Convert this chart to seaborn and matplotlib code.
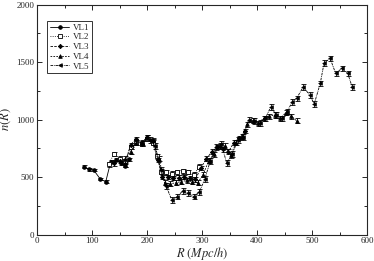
import numpy as np
import pandas as pd
import seaborn as sns
import matplotlib.pyplot as plt
from matplotlib.ticker import MultipleLocator


# values (R in Mpc/h, n(R))
vl1_r = [85, 95, 103, 115, 125, 134, 143, 152, 160, 168]
vl1_n = [590, 568, 561, 483, 459, 633, 650, 620, 598, 655]

vl2_r = [130, 140, 150, 160, 170, 180, 190, 200, 210, 218, 226, 235, 245,
         255, 265, 275, 285, 295]
vl2_n = [610, 700, 660, 640, 760, 800, 790, 830, 800, 680, 546, 540, 530,
         540, 550, 545, 520, 590]

vl3_r = [140, 150, 160, 170, 180, 190, 200, 210, 220, 228, 238, 248, 258,
         268, 278, 288, 298, 308, 318, 328, 338, 348, 358, 368, 378]
vl3_n = [620, 640, 610, 780, 830, 790, 850, 810, 650, 500, 500, 490, 495,
         500, 490, 480, 580, 660, 720, 760, 740, 720, 800, 840, 900]

vl4_r = [160, 170, 180, 190, 200, 210, 222, 232, 242, 252, 262, 272, 282,
         292, 302, 312, 322, 332, 342, 352, 362, 372, 382, 392, 402, 412,
         422, 432, 442, 452, 462, 472]
vl4_n = [660, 720, 800, 800, 840, 820, 660, 450, 440, 450, 460, 470, 460,
         450, 520, 640, 700, 770, 770, 690, 800, 850, 960, 990, 970, 1010,
         1030, 1040, 1010, 1060, 1030, 990]

vl5_r = [205, 215, 225, 235, 245, 255, 265, 275, 285, 295, 305, 315, 325,
         335, 345, 355, 365, 375, 385, 395, 405, 415, 425, 435, 445, 455,
         464, 472, 484, 496, 504, 515, 522, 533, 543, 554, 565, 573]
vl5_n = [820, 770, 560, 420, 300, 330, 380, 360, 330, 370, 480, 640, 760,
         790, 620, 700, 820, 850, 1000, 990, 970, 1010, 1110, 1040, 1010,
         1070, 1155, 1184, 1285, 1213, 1135, 1315, 1494, 1532, 1402, 1445,
         1402, 1285]

labels = ['VL1', 'VL2', 'VL3', 'VL4', 'VL5']
errors = [12, 20, 20, 22, 25]


def main():
    sns.set_style('ticks')
    plt.rcParams['font.family'] = ['Liberation Serif', 'DejaVu Serif']
    plt.rcParams['mathtext.fontset'] = 'stix'

    fig = plt.figure(figsize=(3.74, 2.61), dpi=100)
    ax = fig.add_axes([37 / 374, 26.5 / 261, 330 / 374, 229.8 / 261])

    series = [(vl1_r, vl1_n), (vl2_r, vl2_n), (vl3_r, vl3_n),
              (vl4_r, vl4_n), (vl5_r, vl5_n)]
    markers = ['o', 's', 'D', '^', '<']
    styles = ['-', ':', (0, (3, 1.5)), (0, (2, 1.5)), (0, (3, 1, 1, 1))]
    faces = ['black', 'white', 'black', 'black', 'black']
    sizes = [2.6, 2.2, 2.2, 2.6, 2.6]

    for (r, n), lab, m, ls, fc, ms, err in zip(series, labels, markers,
                                               styles, faces, sizes, errors):
        df = pd.DataFrame({'R': r, 'n': n})
        ax.errorbar(df['R'], df['n'], yerr=err, fmt='none', ecolor='black',
                    elinewidth=0.6, capsize=1.8, capthick=0.6, zorder=2)
        sns.lineplot(data=df, x='R', y='n', ax=ax, color='black',
                     linewidth=0.6, linestyle=ls, marker=m, markersize=ms,
                     markerfacecolor=fc, markeredgecolor='black',
                     markeredgewidth=0.6, label=lab, zorder=3)

    ax.set_xlim(0, 600)
    ax.set_ylim(0, 2000)
    ax.xaxis.set_major_locator(MultipleLocator(100))
    ax.xaxis.set_minor_locator(MultipleLocator(50))
    ax.yaxis.set_major_locator(MultipleLocator(500))
    ax.yaxis.set_minor_locator(MultipleLocator(250))
    ax.tick_params(which='both', direction='in', top=True, right=True,
                   width=0.7, labelsize=6.5, pad=2)
    ax.tick_params(which='major', length=3.5)
    ax.tick_params(which='minor', length=2)
    for sp in ax.spines.values():
        sp.set_linewidth(0.8)

    ax.set_xlabel('$R\\ (Mpc/h)$', fontsize=9, labelpad=0)
    ax.set_ylabel('$n(R)$', fontsize=9, labelpad=2)

    leg = ax.legend(loc='upper left', bbox_to_anchor=(0.03, 0.93),
                    fontsize=6.5, frameon=True, fancybox=False,
                    handlelength=2.2, handletextpad=0.4, borderpad=0.3,
                    labelspacing=0.15, borderaxespad=0)
    leg.get_frame().set_edgecolor('black')
    leg.get_frame().set_linewidth(0.7)

    fig.savefig('out.png', dpi=100)
    plt.close()


if __name__ == '__main__':
    main()
